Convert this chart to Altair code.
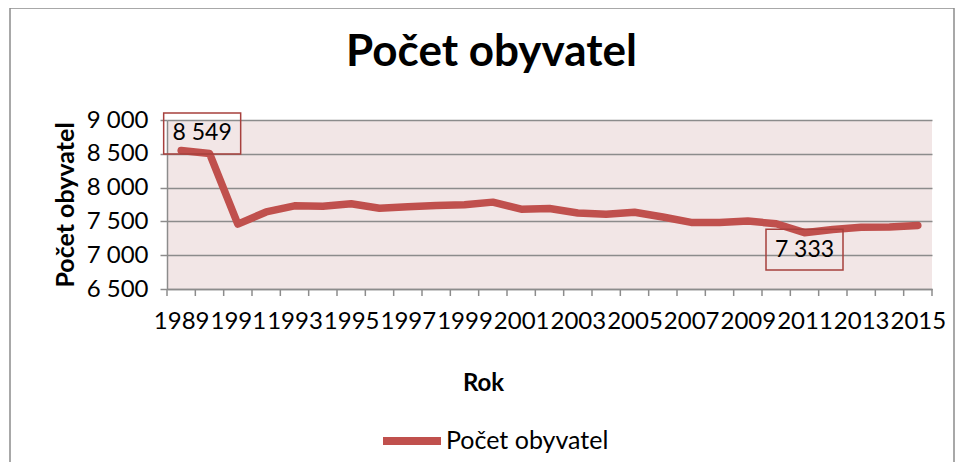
import altair as alt
import pandas as pd

years = list(range(1989, 2016))
population = [8549, 8505, 7460, 7640, 7730, 7725, 7760, 7695, 7715, 7735,
              7745, 7785, 7680, 7690, 7625, 7605, 7635, 7565, 7485, 7485,
              7505, 7465, 7333, 7380, 7412, 7417, 7441]
series_name = "Počet obyvatel"
y_ticks = [6500, 7000, 7500, 8000, 8500, 9000]
x_label_years = list(range(1989, 2016, 2))
label_years = [1989, 2011]
label_texts = ["8 549", "7 333"]

df = pd.DataFrame({"Rok": years, "Pocet": population, "serie": series_name})
ann = pd.DataFrame({
    "Rok": label_years,
    "Pocet": [population[years.index(y)] for y in label_years],
    "txt": label_texts,
})
# category boundaries (Excel-style tick marks between categories)
bounds = pd.DataFrame({
    "Rok": [y - 0.5 for y in years] + [years[-1] + 0.5],
    "Pocet": y_ticks[0],
})

FONT = "Lato"
RED = "#C0504D"
GRID = "#8C8C8C"
BOXRED = "#A7403D"
W, H = 765, 169

x_enc = alt.X(
    "Rok:Q",
    scale=alt.Scale(domain=[years[0] - 0.5, years[-1] + 0.5], nice=False, zero=False),
    axis=alt.Axis(
        values=x_label_years,
        format="d",
        labelOverlap=False,
        labelFlush=False,
        ticks=False,
        domainColor=GRID,
        domainWidth=1.5,
        grid=False,
        labelFont=FONT,
        labelFontSize=24,
        labelColor="#000000",
        labelPadding=20,
        title="Rok",
        titleFont=FONT,
        titleFontSize=24,
        titleFontWeight="bold",
        titleColor="#000000",
        titlePadding=38,
        titleX=316,
    ),
)
y_enc = alt.Y(
    "Pocet:Q",
    scale=alt.Scale(domain=[6500, 9000], nice=False, zero=False),
    axis=alt.Axis(
        values=y_ticks,
        labelExpr="replace(format(datum.value, ','), ',', ' ')",
        labelOverlap=False,
        grid=True,
        gridColor=GRID,
        gridWidth=1.5,
        tickSize=7,
        tickColor=GRID,
        tickWidth=1.5,
        domainColor=GRID,
        domainWidth=1.5,
        labelFont=FONT,
        labelFontSize=24,
        labelColor="#000000",
        labelPadding=12,
        title="Počet obyvatel",
        titleFont=FONT,
        titleFontSize=25,
        titleFontWeight="bold",
        titleColor="#000000",
        titlePadding=8,
    ),
)

xticks = alt.Chart(bounds).mark_tick(
    color=GRID, thickness=1.5, size=7, orient="vertical", opacity=1, yOffset=3.5
).encode(x=x_enc, y=y_enc)

line = alt.Chart(df).mark_line(
    strokeWidth=7.5, strokeCap="round", strokeJoin="round"
).encode(
    x=x_enc,
    y=y_enc,
    color=alt.Color(
        "serie:N",
        scale=alt.Scale(range=[RED]),
        legend=alt.Legend(
            title=None,
            orient="none",
            legendX=212,
            legendY=288,
            symbolType="stroke",
            symbolSize=3364,
            symbolStrokeWidth=8,
            labelFont=FONT,
            labelFontSize=25,
            labelColor="#000000",
            labelOffset=1,
            labelLimit=400,
        ),
    ),
)

BOX_SHAPE = "M-1,-0.53L1,-0.53L1,0.53L-1,0.53Z"

def box_layer(year, dx, dy):
    return alt.Chart(ann).transform_filter(f"datum.Rok == {year}").mark_point(
        shape=BOX_SHAPE, size=5929, filled=False, stroke=BOXRED,
        strokeWidth=1.5, opacity=1, xOffset=dx, yOffset=dy,
    ).encode(x=x_enc, y=y_enc)

def text_layer(year, dx, dy):
    return alt.Chart(ann).transform_filter(f"datum.Rok == {year}").mark_text(
        font=FONT, fontSize=23, color="#000000", baseline="middle",
        align="center", xOffset=dx, yOffset=dy,
    ).encode(x=x_enc, y=y_enc, text="txt:N")

box1 = box_layer(1989, 21, -17)
box2 = box_layer(2011, 0, 17)
txt1 = text_layer(1989, 21, -17)
txt2 = text_layer(2011, 0, 17)

frame = alt.Chart(ann).transform_filter("datum.Rok == 1989").mark_rect(
    fill=None, stroke=GRID, strokeWidth=1.5
).encode(
    x=alt.value(-157), x2=alt.value(787), y=alt.value(-112), y2=alt.value(348)
)

chart = alt.layer(frame, line, xticks, box1, box2, txt1, txt2).properties(
    width=W,
    height=H,
    title=alt.TitleParams(
        "Počet obyvatel", font=FONT, fontSize=44, fontWeight="bold",
        color="#000000", anchor="middle", dx=-58, offset=-103,
        baseline="alphabetic", frame="group",
    ),
    padding={"left": 159, "top": 112, "right": 24, "bottom": 173},
    autosize=alt.AutoSizeParams(type="none"),
    background="#FFFFFF",
).configure_view(
    fill="#F2E6E6", stroke=None
)

chart.save("out.html", embed_options={"renderer": "svg", "actions": False})
